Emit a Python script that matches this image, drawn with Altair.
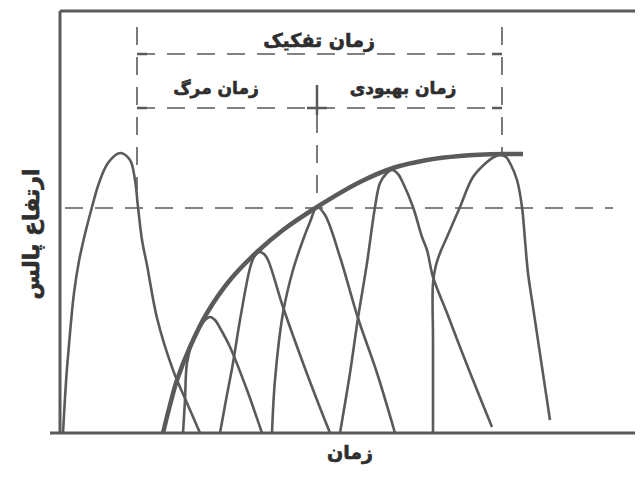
import altair as alt
import pandas as pd

# ---- data (time t, pulse height h) ----
p1_t = [3, 5, 7, 10, 14, 19, 25, 32, 39, 48, 60, 70, 75, 78, 82, 87, 97, 113, 127, 140]
p1_h = [0, 35, 65, 100, 140, 172, 199, 226, 250, 270, 280, 273, 253, 226, 193, 168, 115, 63, 30, 0]

pa_t = [123, 125, 127, 133, 140, 145, 150, 155, 160, 170, 187, 202]
pa_h = [0, 33, 70, 93, 106, 113, 116, 113, 105, 86, 43, 0]

pb_t = [160, 166, 173, 180, 190, 194, 199, 204, 208, 223, 243, 257, 270]
pb_h = [0, 33, 70, 113, 165, 176, 181, 179, 173, 126, 70, 33, 0]

pc_t = [212, 215, 223, 233, 243, 250, 257, 265, 280, 298, 317, 335]
pc_h = [0, 53, 120, 163, 193, 211, 226, 218, 176, 115, 60, 0]

pd_t = [280, 290, 298, 307, 315, 320, 326, 332, 338, 343, 353, 362, 367, 373, 387, 400, 417, 432]
pd_h = [0, 60, 115, 170, 226, 250, 259, 263, 259, 250, 226, 196, 183, 156, 120, 86, 43, 6]

pe_t = [373, 373, 373, 376, 380, 387, 400, 413, 427, 434, 440, 446, 450, 457, 462, 465, 468, 473, 482, 490]
pe_h = [0, 93, 150, 168, 180, 196, 226, 256, 271, 276, 278, 276, 270, 253, 226, 193, 160, 126, 66, 13]

env_t = [103, 110, 117, 130, 147, 170, 197, 223, 257, 300, 333, 367, 400, 443, 463]
env_h = [0, 28, 53, 86, 120, 153, 181, 203, 226, 251, 265, 273, 277, 279, 279]

# annotation guide lines (t, h, t2, h2)
dash_t = [5, 77, 257, 442, 77, 77]
dash_h = [225, 406, 318, 406, 379, 325]
dash_t2 = [553, 77, 257, 442, 442, 442]
dash_h2 = [225, 243, 226, 281, 379, 325]

# solid arrow-end marks
tick_t = [77, 432, 77, 432, 247, 257]
tick_h = [379, 379, 325, 325, 325, 318]
tick_t2 = [87, 442, 87, 442, 267, 257]
tick_h2 = [379, 379, 325, 325, 325, 348]

# frame
frame_t = [0, -10, 0]
frame_h = [0, 0, 422]
frame_t2 = [0, 575, 575]
frame_h2 = [422, 0, 422]

top_label = ["زمان تفکیک"]
top_t = [259]
top_h = [392]

sub_labels = ["زمان مرگ", "زمان بهبودی"]
sub_t = [156, 343]
sub_h = [344, 344]

xtitle = "زمان"
ytitle = "ارتفاع پالس"

LINE = "#5a5a5a"
TEXT = "#2e2e2e"

rows = []
for name, ts, hs in [("p1", p1_t, p1_h), ("pa", pa_t, pa_h), ("pb", pb_t, pb_h),
                     ("pc", pc_t, pc_h), ("pd", pd_t, pd_h), ("pe", pe_t, pe_h)]:
    for i, (t, h) in enumerate(zip(ts, hs)):
        rows.append({"curve": name, "i": i, "t": t, "h": h})
pulses = pd.DataFrame(rows)
env = pd.DataFrame({"t": env_t, "h": env_h, "i": list(range(len(env_t)))})
dashes = pd.DataFrame({"t": dash_t, "h": dash_h, "t2": dash_t2, "h2": dash_h2})
ticks = pd.DataFrame({"t": tick_t, "h": tick_h, "t2": tick_t2, "h2": tick_h2})
frame = pd.DataFrame({"t": frame_t, "h": frame_h, "t2": frame_t2, "h2": frame_h2})
top_df = pd.DataFrame({"text": top_label, "t": top_t, "h": top_h})
sub_df = pd.DataFrame({"text": sub_labels, "t": sub_t, "h": sub_h})
xt = pd.DataFrame({"text": [xtitle], "t": [290], "h": [-20]})
yt = pd.DataFrame({"text": [ytitle], "t": [-28], "h": [199]})

xs = alt.Scale(domain=[0, 575], nice=False, zero=False)
ys = alt.Scale(domain=[0, 422], nice=False, zero=False)
X = lambda f="t": alt.X(f"{f}:Q", scale=xs, axis=None)
Y = lambda f="h": alt.Y(f"{f}:Q", scale=ys, axis=None)

pulse_layer = alt.Chart(pulses).mark_line(
    interpolate="catmull-rom", color=LINE, strokeWidth=2.6
).encode(x=X(), y=Y(), detail="curve:N", order="i:Q")

env_layer = alt.Chart(env).mark_line(
    interpolate="catmull-rom", color=LINE, strokeWidth=4.5
).encode(x=X(), y=Y(), order="i:Q")

dash_layer = alt.Chart(dashes).mark_rule(
    color=LINE, strokeWidth=1.6, strokeDash=[18, 12]
).encode(x=X(), y=Y(), x2="t2:Q", y2="h2:Q")

tick_layer = alt.Chart(ticks).mark_rule(color=LINE, strokeWidth=2.5).encode(
    x=X(), y=Y(), x2="t2:Q", y2="h2:Q")

frame_layer = alt.Chart(frame).mark_rule(color=LINE, strokeWidth=3).encode(
    x=X(), y=Y(), x2="t2:Q", y2="h2:Q")

text_style = dict(font="DejaVu Sans", fontWeight="bold", color=TEXT,
                  stroke=TEXT, strokeWidth=0.6, baseline="middle")

top_layer = alt.Chart(top_df).mark_text(fontSize=19, **text_style).encode(
    x=X(), y=Y(), text="text:N")

sub_layer = alt.Chart(sub_df).mark_text(fontSize=17, **text_style).encode(
    x=X(), y=Y(), text="text:N")

xt_layer = alt.Chart(xt).mark_text(fontSize=19, **text_style).encode(
    x=X(), y=Y(), text="text:N")

yt_layer = alt.Chart(yt).mark_text(fontSize=22, angle=270, **text_style).encode(
    x=X(), y=Y(), text="text:N")

chart = alt.layer(
    frame_layer, dash_layer, tick_layer, pulse_layer, env_layer,
    top_layer, sub_layer, xt_layer, yt_layer
).properties(
    width=575, height=422,
    autosize=alt.AutoSizeParams(type="none"),
    padding={"left": 52, "top": 3, "right": 0, "bottom": 35},
    background="white",
).configure_view(stroke=None)

chart.save("out.html", embed_options={"renderer": "svg", "actions": False})
